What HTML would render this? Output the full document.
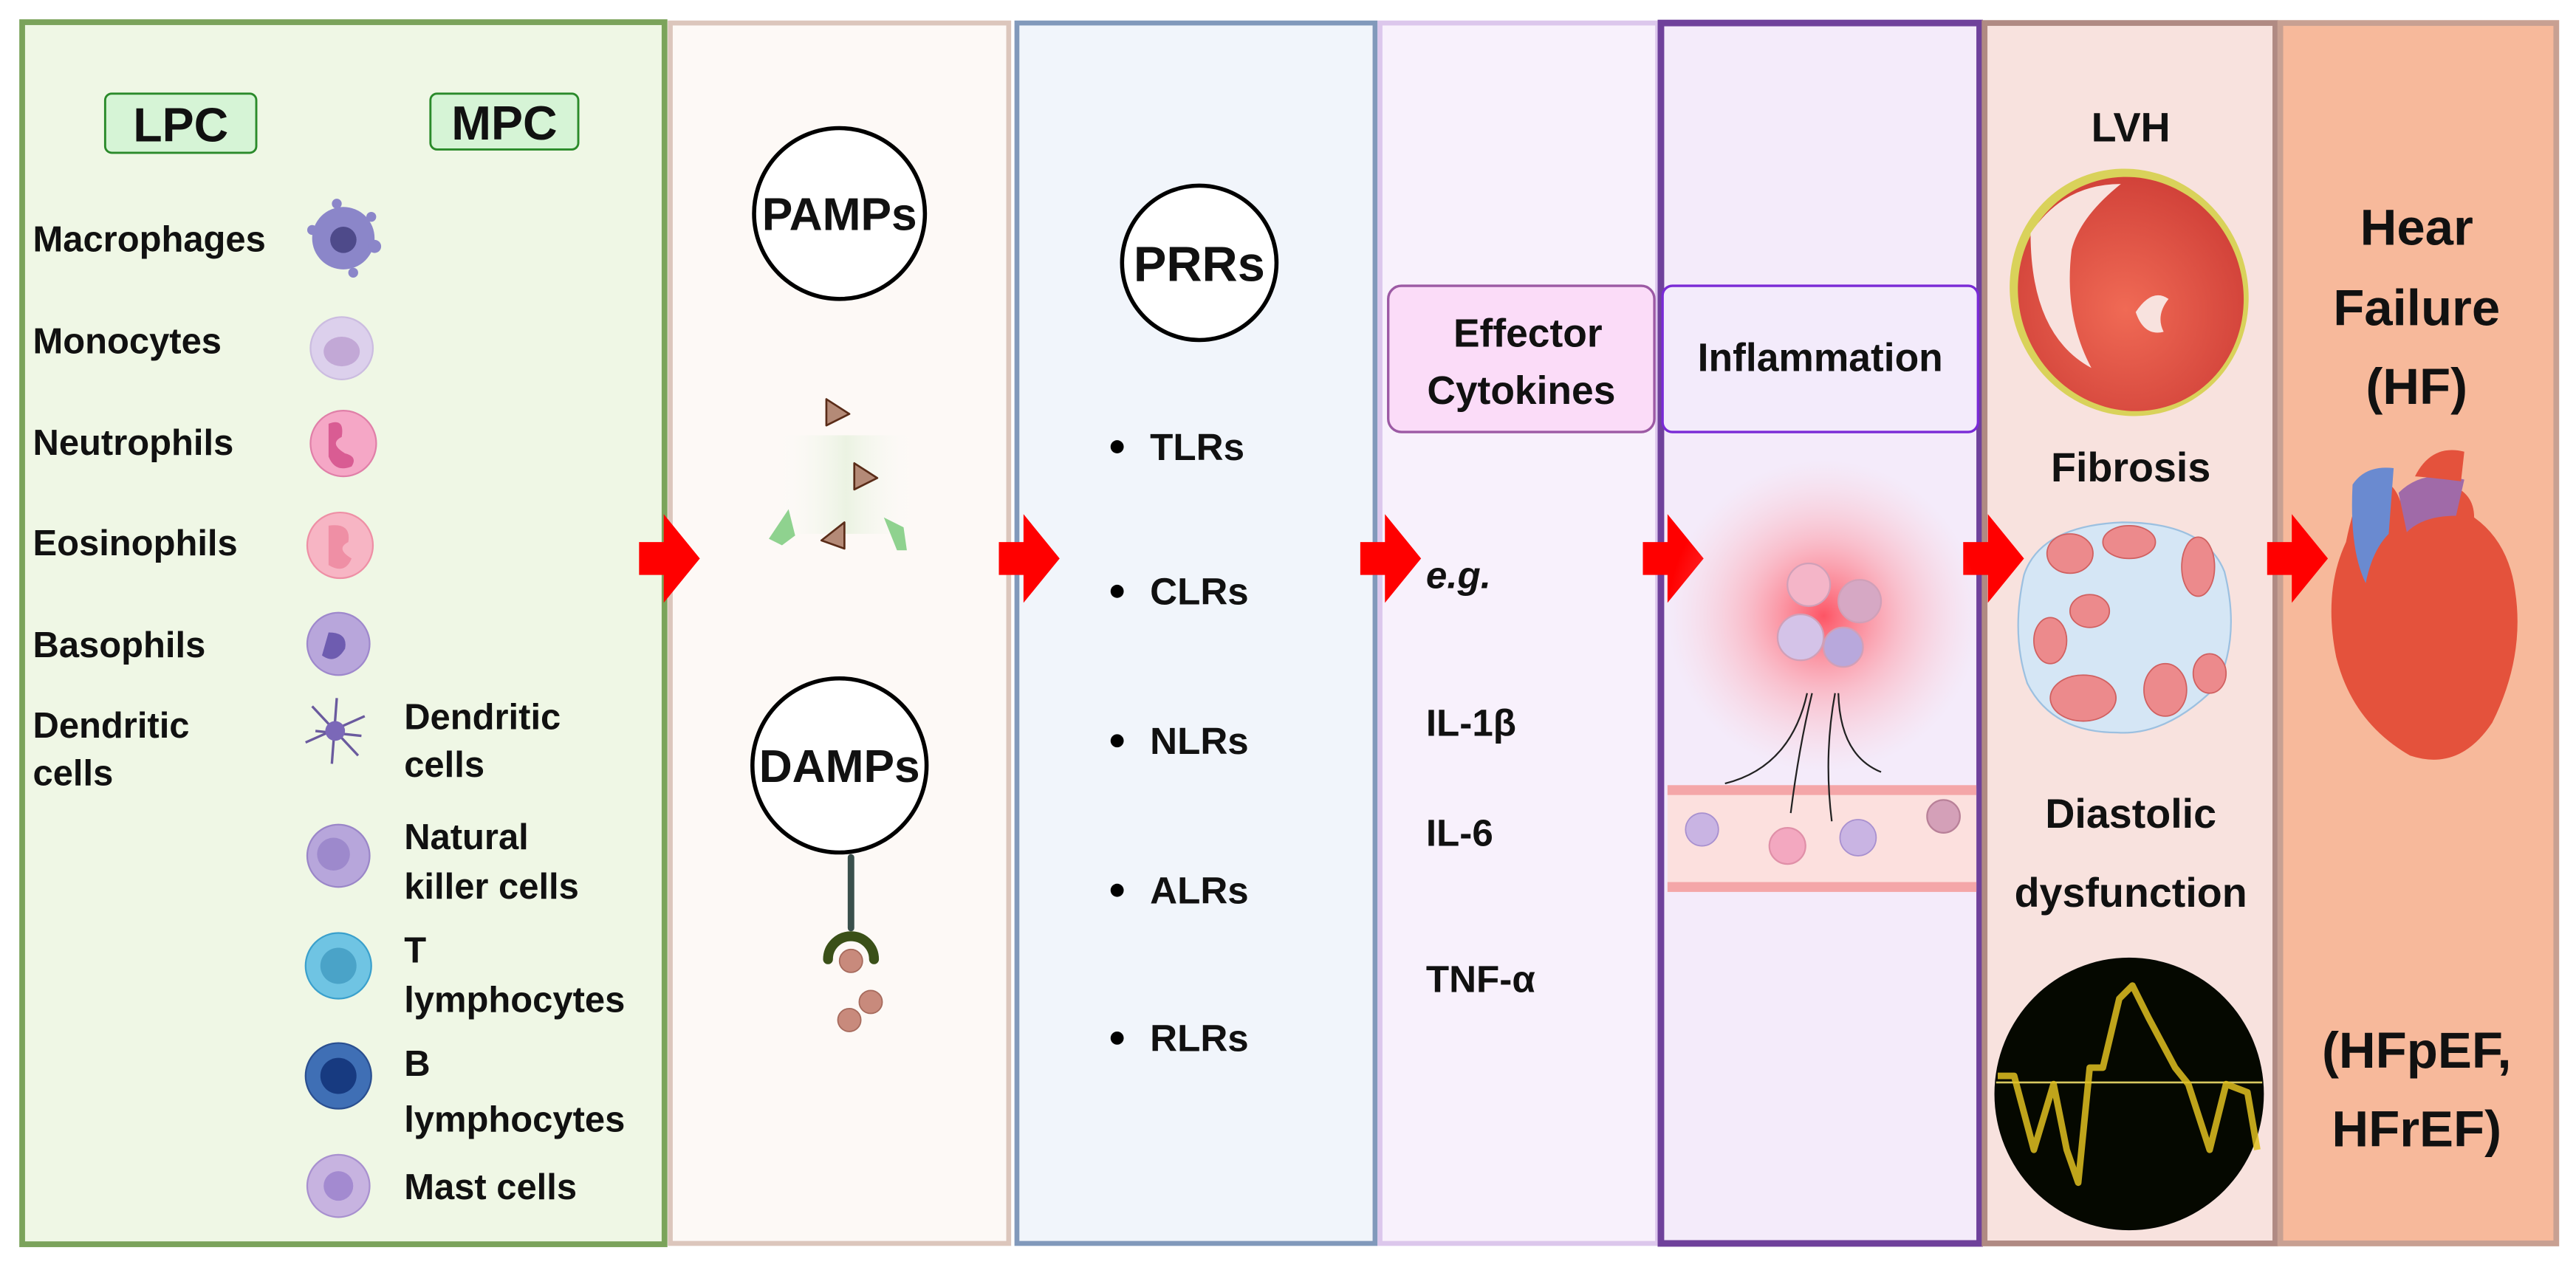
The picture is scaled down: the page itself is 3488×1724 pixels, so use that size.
<!DOCTYPE html>
<html><head><meta charset="utf-8"><style>
html,body{margin:0;padding:0;background:#fff;}
svg{display:block;}
text{font-family:"Liberation Sans",sans-serif;font-weight:bold;fill:#111;}
</style></head><body>
<svg width="3488" height="1724" viewBox="0 0 1568 775" xmlns="http://www.w3.org/2000/svg">
<defs>
<radialGradient id="glow" cx="0.5" cy="0.5" r="0.5">
<stop offset="0" stop-color="#ff3a4a" stop-opacity="0.85"/>
<stop offset="0.5" stop-color="#ff8a95" stop-opacity="0.45"/>
<stop offset="1" stop-color="#ffc0c8" stop-opacity="0"/>
</radialGradient>
<radialGradient id="hrt" cx="0.45" cy="0.55" r="0.6">
<stop offset="0" stop-color="#f06a55"/><stop offset="1" stop-color="#d04038"/>
</radialGradient>
<linearGradient id="vg" x1="0" y1="0" x2="1" y2="0">
<stop offset="0" stop-color="#fff" stop-opacity="0"/><stop offset="0.5" stop-color="#dfeed5"/><stop offset="1" stop-color="#fff" stop-opacity="0"/>
</linearGradient>
</defs>
<rect width="1568" height="775" fill="#fff"/>
<rect x="13.5" y="13.5" width="391" height="744" fill="#eff7e5" stroke="#7ba35b" stroke-width="3.5"/>
<rect x="408" y="14" width="206" height="743" fill="#fdf9f6" stroke="#dcc6bc" stroke-width="3"/>
<rect x="619" y="14" width="218" height="743" fill="#f1f5fb" stroke="#8199bb" stroke-width="3"/>
<rect x="840" y="14" width="169" height="743" fill="#f8f1fc" stroke="#dcc7ec" stroke-width="3"/>
<rect x="1011" y="14" width="194" height="743" fill="#f4ebfa" stroke="#6f419b" stroke-width="4"/>
<rect x="1208" y="14" width="177" height="743" fill="#f8e2de" stroke="#b08a83" stroke-width="3.5"/>
<rect x="1388" y="14" width="168" height="743" fill="#f7b99b" stroke="#c8a092" stroke-width="3.5"/>

<g fill="#ff0000">
<path d="M389,330 h15 v-17 l22,27 l-22,27 v-17 h-15z"/>
<path d="M608,330 h15 v-17 l22,27 l-22,27 v-17 h-15z"/>
<path d="M828,330 h15 v-17 l22,27 l-22,27 v-17 h-15z"/>
<path d="M1000,330 h15 v-17 l22,27 l-22,27 v-17 h-15z"/>
<path d="M1195,330 h15 v-17 l22,27 l-22,27 v-17 h-15z"/>
<path d="M1380,330 h15 v-17 l22,27 l-22,27 v-17 h-15z"/>
</g>

<rect x="64" y="57" width="92" height="36" rx="4" fill="#d6f4d6" stroke="#2a8a2a" stroke-width="1.3"/>
<text x="110" y="86" font-size="29" text-anchor="middle">LPC</text>
<rect x="262" y="57" width="90" height="34" rx="4" fill="#d6f4d6" stroke="#2a8a2a" stroke-width="1.3"/>
<text x="307" y="85" font-size="29" text-anchor="middle">MPC</text>
<g font-size="22">
<text x="20" y="153">Macrophages</text>
<text x="20" y="215">Monocytes</text>
<text x="20" y="277">Neutrophils</text>
<text x="20" y="338">Eosinophils</text>
<text x="20" y="400">Basophils</text>
<text x="20" y="449">Dendritic</text>
<text x="20" y="478">cells</text>
<text x="246" y="444">Dendritic</text>
<text x="246" y="473">cells</text>
<text x="246" y="517">Natural</text>
<text x="246" y="547">killer cells</text>
<text x="246" y="586">T</text>
<text x="246" y="616">lymphocytes</text>
<text x="246" y="655">B</text>
<text x="246" y="689">lymphocytes</text>
<text x="246" y="730">Mast cells</text>
</g>
<g>
<circle cx="209" cy="145" r="19" fill="#8b86c9"/><circle cx="209" cy="146" r="8" fill="#4e4a8a"/>
<circle cx="190" cy="140" r="3" fill="#8b86c9"/><circle cx="228" cy="150" r="4" fill="#8b86c9"/><circle cx="205" cy="124" r="3" fill="#8b86c9"/><circle cx="215" cy="166" r="3" fill="#8b86c9"/><circle cx="226" cy="132" r="3" fill="#8b86c9"/>
<circle cx="208" cy="212" r="19" fill="#dcd0ec" stroke="#cbbce0"/><ellipse cx="208" cy="214" rx="11" ry="9" fill="#c2a8d6"/>
<circle cx="209" cy="270" r="20" fill="#f5a7c6" stroke="#e07fa8"/><path d="M200,258 q10,-4 8,8 q-8,4 2,10 q8,2 4,8 q-10,4 -14,-6z" fill="#d95c93"/>
<circle cx="207" cy="332" r="20" fill="#f7b5c4" stroke="#ee8fa5"/><path d="M200,320 q14,-2 12,10 q-8,4 2,10 q-4,10 -14,4z" fill="#ef8fa5"/>
<circle cx="206" cy="392" r="19" fill="#b8a6db" stroke="#9e88cc"/><path d="M200,385 q12,0 10,10 q-6,10 -14,4z" fill="#6e5cb0"/>
<g stroke="#6a5a9e" stroke-width="1.5"><line x1="190" y1="430" x2="218" y2="460"/><line x1="186" y1="452" x2="222" y2="436"/><line x1="205" y1="425" x2="202" y2="465"/><line x1="192" y1="445" x2="220" y2="448"/></g>
<circle cx="204" cy="445" r="6" fill="#7b68b8"/>
<circle cx="206" cy="521" r="19" fill="#b7a6db" stroke="#9a86c8"/><circle cx="203" cy="520" r="10" fill="#9d89cc"/>
<circle cx="206" cy="588" r="20" fill="#6fc4e3" stroke="#3aa0cc"/><circle cx="206" cy="588" r="11" fill="#4aa3c8"/>
<circle cx="206" cy="655" r="20" fill="#3f6fb5" stroke="#2a4f90"/><circle cx="206" cy="655" r="11" fill="#173a80"/>
<circle cx="206" cy="722" r="19" fill="#c7b3e0" stroke="#a890cf"/><circle cx="206" cy="722" r="9" fill="#a38ad0"/>
</g>

<circle cx="511" cy="130" r="52" fill="#fff" stroke="#000" stroke-width="2.5"/>
<text x="511" y="140" font-size="28" text-anchor="middle">PAMPs</text>
<rect x="470" y="265" width="90" height="60" fill="url(#vg)" opacity="0.6"/>
<g fill="#b48a77" stroke="#5a2c18" stroke-width="1.2" stroke-linejoin="round">
<path d="M503,243 l0,16 l14,-7z"/><path d="M520,282 l0,16 l14,-7z"/><path d="M514,318 l0,16 l-14,-5z"/>
</g>
<g fill="#8fd28f"><path d="M480,310 l-12,18 l8,4 l8,-6z"/><path d="M538,315 l8,20 l6,0 l-2,-14z"/></g>
<circle cx="511" cy="466" r="53" fill="#fff" stroke="#000" stroke-width="2.5"/>
<text x="511" y="476" font-size="28" text-anchor="middle">DAMPs</text>
<line x1="518" y1="522" x2="518" y2="565" stroke="#3a504c" stroke-width="4" stroke-linecap="round"/>
<path d="M504,584 a14,14 0 0 1 28,0" fill="none" stroke="#3a5018" stroke-width="6" stroke-linecap="round"/>
<g fill="#c88a7c" stroke="#a66a5c" stroke-width="0.8"><circle cx="518" cy="585" r="7"/><circle cx="530" cy="610" r="7"/><circle cx="517" cy="621" r="7"/></g>

<circle cx="730" cy="160" r="47" fill="#fff" stroke="#000" stroke-width="2.5"/>
<text x="730" y="171" font-size="30" text-anchor="middle">PRRs</text>
<g font-size="23">
<circle cx="680" cy="272" r="4" fill="#000"/><text x="700" y="280">TLRs</text>
<circle cx="680" cy="360" r="4" fill="#000"/><text x="700" y="368">CLRs</text>
<circle cx="680" cy="451" r="4" fill="#000"/><text x="700" y="459">NLRs</text>
<circle cx="680" cy="542" r="4" fill="#000"/><text x="700" y="550">ALRs</text>
<circle cx="680" cy="632" r="4" fill="#000"/><text x="700" y="640">RLRs</text>
</g>

<rect x="845" y="174" width="162" height="89" rx="8" fill="#fbdcf8" stroke="#9c5aa4" stroke-width="1.5"/>
<text x="930" y="211" font-size="24" text-anchor="middle">Effector</text>
<text x="926" y="246" font-size="24" text-anchor="middle">Cytokines</text>
<g font-size="23">
<text x="868" y="358" font-style="italic">e.g.</text>
<text x="868" y="448">IL-1β</text>
<text x="868" y="515">IL-6</text>
<text x="868" y="604">TNF-α</text>
</g>

<rect x="1012" y="174" width="192" height="89" rx="6" fill="#f3ebfb" stroke="#7a2ad6" stroke-width="1.5"/>
<text x="1108" y="226" font-size="24" text-anchor="middle">Inflammation</text>
<circle cx="1110" cy="375" r="95" fill="url(#glow)"/>
<g stroke="#d0a0b8" stroke-width="1">
<circle cx="1101" cy="356" r="13" fill="#f4b5c8"/><circle cx="1132" cy="366" r="13" fill="#d6a8c4"/>
<circle cx="1096" cy="388" r="14" fill="#d4c3e8"/><circle cx="1122" cy="394" r="12" fill="#b8a8dc"/>
</g>
<rect x="1015" y="480" width="188" height="63" fill="#fce0de"/>
<rect x="1015" y="478" width="188" height="6" fill="#f4a6a8"/>
<rect x="1015" y="537" width="188" height="6" fill="#f4a6a8"/>
<g stroke="#222" stroke-width="1" fill="none">
<path d="M1050,477 q40,-10 50,-55"/><path d="M1090,495 q5,-40 13,-73"/><path d="M1115,500 q-5,-40 2,-78"/><path d="M1145,470 q-25,-10 -26,-48"/>
</g>
<g fill="#c9b4e3" stroke="#a890cf" stroke-width="0.8"><circle cx="1036" cy="505" r="10"/><circle cx="1131" cy="510" r="11"/></g>
<circle cx="1088" cy="515" r="11" fill="#f3a8c0" stroke="#e090a8"/>
<circle cx="1183" cy="497" r="10" fill="#d4a0b8" stroke="#b88098"/>

<text x="1297" y="86" font-size="25" text-anchor="middle">LVH</text>
<ellipse cx="1296" cy="178" rx="72" ry="76" transform="rotate(-25 1296 178)" fill="#d9d25a"/>
<ellipse cx="1297" cy="179" rx="68" ry="72" transform="rotate(-25 1297 179)" fill="url(#hrt)"/>
<path d="M1236,142 q20,-30 55,-30 q-25,20 -30,40 q-5,40 12,72 q-37,-20 -37,-82z" fill="#f8e2de"/>
<path d="M1300,190 q10,-15 20,-8 q-8,10 -3,20 q-12,3 -17,-12z" fill="#f8e2de"/>
<text x="1297" y="293" font-size="25" text-anchor="middle">Fibrosis</text>
<path d="M1232,350 q10,-30 60,-32 q50,0 62,30 q10,40 -5,70 q-30,30 -60,28 q-40,0 -55,-30 q-10,-30 -2,-66z" fill="#d5e6f5" stroke="#9cc0e0"/>
<g fill="#ec8a8c" stroke="#d06060" stroke-width="0.8">
<ellipse cx="1260" cy="337" rx="14" ry="12"/><ellipse cx="1296" cy="330" rx="16" ry="10"/><ellipse cx="1338" cy="345" rx="10" ry="18"/>
<ellipse cx="1248" cy="390" rx="10" ry="14"/><ellipse cx="1272" cy="372" rx="12" ry="10"/><ellipse cx="1268" cy="425" rx="20" ry="14"/>
<ellipse cx="1318" cy="420" rx="13" ry="16"/><ellipse cx="1345" cy="410" rx="10" ry="12"/>
</g>
<text x="1297" y="504" font-size="25" text-anchor="middle">Diastolic</text>
<text x="1297" y="552" font-size="25" text-anchor="middle">dysfunction</text>
<ellipse cx="1296" cy="666" rx="82" ry="83" fill="#050800"/>
<line x1="1215" y1="659" x2="1377" y2="659" stroke="#d8c860" stroke-width="1.2"/>
<polyline points="1216,655 1226,655 1238,700 1250,660 1258,700 1265,720 1272,650 1280,650 1290,608 1298,600 1308,620 1324,650 1332,660 1345,700 1355,660 1368,665 1374,700" fill="none" stroke="#e0c020" stroke-width="4" stroke-linejoin="round" opacity="0.85"/>

<g font-size="31" text-anchor="middle">
<text x="1471" y="149">Hear</text>
<text x="1471" y="198">Failure</text>
<text x="1471" y="246">(HF)</text>
<text x="1471" y="650">(HFpEF,</text>
<text x="1471" y="698">HFrEF)</text>
</g>
<path d="M1440,290 q-8,20 -12,40 q-14,30 -6,70 q10,40 45,60 q30,10 50,-20 q20,-40 14,-80 q-4,-30 -25,-45 q0,-15 -15,-20 q-20,-5 -30,10 q-5,-15 -21,-15z" fill="#e4523c"/>
<path d="M1432,295 q8,-12 25,-10 l-3,40 q-10,10 -14,30 q-10,-20 -8,-60z" fill="#6a8ad0"/>
<path d="M1460,300 q15,-15 40,-8 l-5,22 q-20,0 -30,10z" fill="#a06aa8"/>
<path d="M1470,290 q10,-20 30,-15 l-2,18 q-16,-2 -28,-3z" fill="#e4523c"/>
</svg>
</body></html>
